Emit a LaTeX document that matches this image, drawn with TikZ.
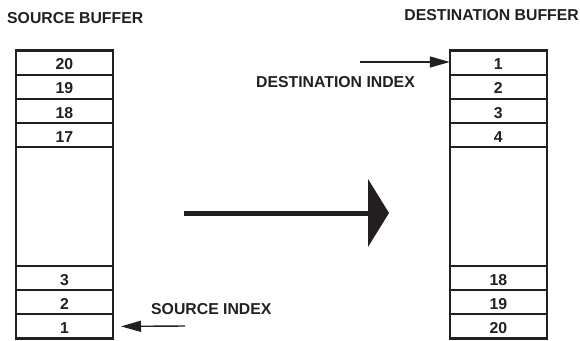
\documentclass[tikz,border=0pt]{standalone}
\usepackage{fontspec}
\setmainfont{Liberation Sans}
\usetikzlibrary{arrows.meta,calc}
\definecolor{ink}{HTML}{231F20}
\begin{document}
\begin{tikzpicture}[x=1pt,y=-1pt,color=ink,
  lbl/.style={inner sep=0pt, text=ink, font=\fontsize{15.8}{18}\selectfont\bfseries},
  cell/.style={draw=ink, line width=2.2pt, minimum width=97pt, minimum height=24.2pt, inner sep=0pt, outer sep=0pt, anchor=north, lbl, text height=14pt, text depth=0pt},
  blank/.style={cell, minimum height=118.6pt},
  idx/.style={draw=ink, line width=1.4pt, -{Triangle[length=20pt,width=11pt]}},
  big/.style={draw=ink, line width=5pt, -{Triangle[length=21pt,width=68pt,line width=0pt]}}
]
\useasboundingbox (0,0) rectangle (580,340);
% titles
\node[lbl, anchor=west] (stitle) at (7,18) {SOURCE BUFFER};
\node[lbl, anchor=east] (dtitle) at (579,15) {DESTINATION BUFFER};
% source buffer
\node[cell] (s20) at (64.5,50.5) {20};
\node[cell] (s19) at (s20.south) {19};
\node[cell] (s18) at (s19.south) {18};
\node[cell] (s17) at (s18.south) {17};
\node[blank] (sb) at (s17.south) {};
\node[cell] (s3) at (sb.south) {3};
\node[cell] (s2) at (s3.south) {2};
\node[cell] (s1) at (s2.south) {1};
% destination buffer
\node[cell] (d1) at (498.3,50.5) {1};
\node[cell] (d2) at (d1.south) {2};
\node[cell] (d3) at (d2.south) {3};
\node[cell] (d4) at (d3.south) {4};
\node[blank] (db) at (d4.south) {};
\node[cell] (d18) at (db.south) {18};
\node[cell] (d19) at (d18.south) {19};
\node[cell] (d20) at (d19.south) {20};
% index labels
\node[lbl, anchor=west] (sidx) at (151,309) {SOURCE INDEX};
\node[lbl, anchor=east] (didx) at (415,82) {DESTINATION INDEX};
% index arrows
\coordinate (sstart) at (185,326);
\draw[idx] (sstart) -- ($(s1.east)+(8,0)$ |- sstart);
\coordinate (dstart) at (360,62);
\draw[idx] (dstart) -- (d1.west |- dstart);
% big arrow
\coordinate (bigA) at (184,213);
\coordinate (bigB) at (389,213);
\draw[big] (bigA) -- (bigB);
\end{tikzpicture}
\end{document}
